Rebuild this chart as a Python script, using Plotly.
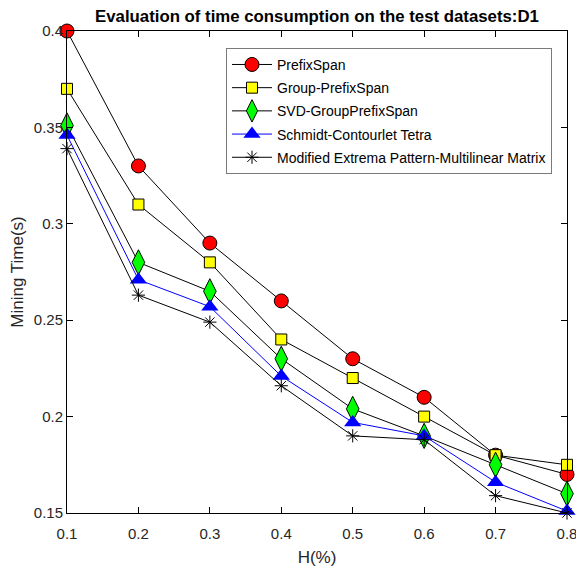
import plotly.graph_objects as go

h = [0.1, 0.2, 0.3, 0.4, 0.5, 0.6, 0.7, 0.8]
prefixspan = [0.400, 0.330, 0.290, 0.260, 0.230, 0.210, 0.180, 0.170]
group_prefixspan = [0.370, 0.310, 0.280, 0.240, 0.220, 0.200, 0.180, 0.175]
svd_group = [0.351, 0.280, 0.265, 0.230, 0.204, 0.190, 0.175, 0.160]
schmidt = [0.346, 0.271, 0.257, 0.221, 0.197, 0.190, 0.166, 0.151]
modified = [0.339, 0.263, 0.249, 0.216, 0.190, 0.188, 0.159, 0.150]

names = ["PrefixSpan", "Group-PrefixSpan", "SVD-GroupPrefixSpan",
         "Schmidt-Contourlet Tetra", "Modified Extrema Pattern-Multilinear Matrix"]

FONT = "Liberation Sans, Arial, sans-serif"

fig = go.Figure()
fig.add_trace(go.Scatter(x=h, y=prefixspan, name=names[0], mode="lines+markers", legendgroup="a",
                         cliponaxis=False,
                         line=dict(color="black", width=1),
                         marker=dict(symbol="circle", size=14, color="#ff0000",
                                     line=dict(color="black", width=1))))
fig.add_trace(go.Scatter(x=h, y=group_prefixspan, name=names[1], mode="lines+markers", legendgroup="b",
                         cliponaxis=False,
                         line=dict(color="black", width=1),
                         marker=dict(symbol="square", size=11, color="#ffff00",
                                     line=dict(color="black", width=1))))
fig.add_trace(go.Scatter(x=h, y=svd_group, name=names[2], mode="lines+markers", legendgroup="c",
                         cliponaxis=False,
                         line=dict(color="black", width=1),
                         marker=dict(symbol="diamond-tall", size=18, color="#00ff00",
                                     line=dict(color="black", width=1))))
fig.add_trace(go.Scatter(x=h, y=schmidt, name=names[3], mode="lines+markers", legendgroup="d",
                         cliponaxis=False,
                         line=dict(color="#0000ff", width=1),
                         marker=dict(symbol="triangle-up", size=15, color="#0000ff",
                                     line=dict(color="#0000ff", width=0))))
fig.add_trace(go.Scatter(x=h, y=modified, name=names[4], mode="lines+markers", legendgroup="e",
                         cliponaxis=False,
                         line=dict(color="black", width=1),
                         marker=dict(symbol="asterisk-open", size=11, color="black",
                                     line=dict(color="black", width=1))))

fig.update_layout(
    width=576, height=577,
    margin=dict(l=67, r=9, t=31, b=64, autoexpand=False),
    paper_bgcolor="white", plot_bgcolor="white",
    font=dict(family=FONT, size=14, color="#262626"),
    title=dict(text="<b>Evaluation of time consumption on the test datasets:D1</b>",
               xref="paper", x=0.5, xanchor="center", y=0.972, yanchor="middle",
               font=dict(family=FONT, size=16.8, color="black")),
    showlegend=True,
    hovermode=False,
    legend=dict(x=0.318, y=0.965, xanchor="left", yanchor="top",
                bgcolor="white", bordercolor="#7a7a7a", borderwidth=1,
                font=dict(family=FONT, size=14, color="black"),
                itemwidth=40, tracegroupgap=2),
)
fig.update_xaxes(range=[0.1, 0.8], tickvals=h, ticktext=[f"{v:.1f}" for v in h],
                 ticks="inside", ticklen=6, tickcolor="black",
                 tickfont=dict(size=15), ticklabeloverflow="allow", ticklabelstandoff=7,
                 showline=True, linecolor="black", linewidth=1, mirror="ticks",
                 showgrid=False, zeroline=False, automargin=False,
                 title=dict(text="H(%)", font=dict(size=17, color="#262626"), standoff=10))
fig.update_yaxes(range=[0.15, 0.4], tickvals=[0.15, 0.2, 0.25, 0.3, 0.35, 0.4],
                 ticktext=["0.15", "0.2", "0.25", "0.3", "0.35", "0.4"],
                 ticks="inside", ticklen=6, tickcolor="black",
                 tickfont=dict(size=15), ticklabeloverflow="allow",
                 showline=True, linecolor="black", linewidth=1, mirror="ticks",
                 showgrid=False, zeroline=False, automargin=False,
                 title=dict(text="Mining Time(s)", font=dict(size=17, color="#262626"), standoff=5))

fig.write_html("out.html",
               config={"displayModeBar": False},
               post_script="document.body.style.margin='0';document.body.style.overflow='hidden';")
